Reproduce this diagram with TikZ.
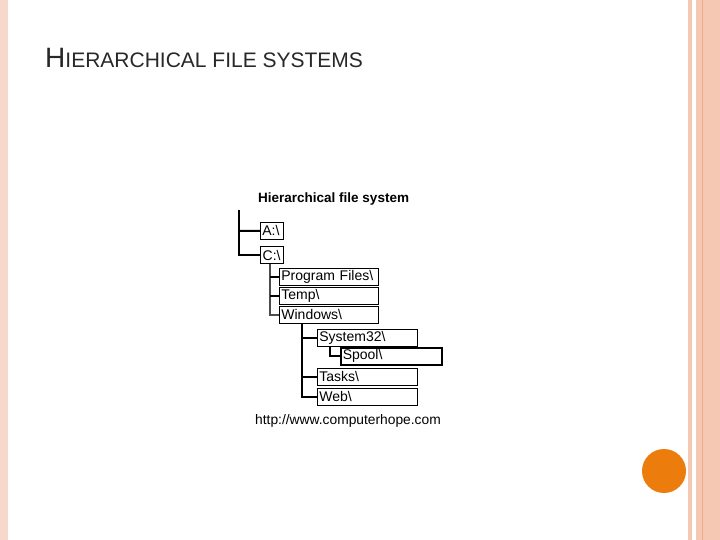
\documentclass[tikz,border=0pt]{standalone}
\usepackage{fontspec}
\setmainfont{Liberation Sans}
\definecolor{salmon}{RGB}{245,200,180}
\definecolor{salmond}{RGB}{235,170,140}
\definecolor{orng}{RGB}{236,124,12}
\definecolor{ttl}{RGB}{40,40,40}
\begin{document}
\begin{tikzpicture}[x=1pt,y=-1pt,
  fbox/.style={draw,line width=0.8pt,anchor=north west,inner ysep=0pt,inner xsep=2pt,minimum height=17pt,font=\fontsize{14}{14}\selectfont,text height=10pt,align=left},
  tl/.style={line width=2pt}]
\useasboundingbox (0,0) rectangle (720,540);
\fill[white] (0,0) rectangle (720,540);
\fill[salmon!70] (0,0) rectangle (8,540);
\fill[salmon] (688,0) rectangle (692,540);
\fill[salmon] (696,0) rectangle (720,540);
\draw[salmond,line width=0.8pt] (702,0) -- (702,540);
\fill[orng] (664,471) circle (22);
\node[anchor=west,text=ttl,inner sep=0] (title) at (45,58) {\fontsize{28}{28}\selectfont H\fontsize{21}{21}\selectfont IERARCHICAL FILE SYSTEMS};
\node[anchor=west,inner sep=0,font=\bfseries\fontsize{13.5}{13.5}\selectfont] (head) at (258,199) {Hierarchical file system};
\node[fbox,text width=19pt] (a) at (260,222) {A:\textbackslash};
\node[fbox,text width=19pt,line width=1.4pt] (c) at (260,246) {C:\textbackslash};
\node[fbox,text width=95pt] (pf) at (279,268) {Program Files\textbackslash};
\node[fbox,text width=95pt] (tmp) at (279,287) {Temp\textbackslash};
\node[fbox,text width=95pt] (win) at (279,306) {Windows\textbackslash};
\node[fbox,text width=96pt] (sys) at (317,329) {System32\textbackslash};
\node[fbox,text width=97pt,line width=1.5pt] (sp) at (340,347) {Spool\textbackslash};
\node[fbox,text width=96pt] (tsk) at (317,368) {Tasks\textbackslash};
\node[fbox,text width=96pt] (web) at (317,388) {Web\textbackslash};
\node[anchor=west,inner sep=0,font=\fontsize{13.8}{13.8}\selectfont] (url) at (255,421) {http://www.computerhope.com};
\coordinate (r0) at (239,210);
\draw[tl] (r0) |- (c.west);
\draw[tl] (239,231) -- (a.west);
\draw[tl,black!70] (c.south -| 270,0) |- (win.west);
\draw[tl] (270,0 |- pf.west) -- (pf.west);
\draw[tl] (270,0 |- tmp.west) -- (tmp.west);
\draw[tl] (302,0 |- win.south) |- (web.west);
\draw[tl] (302,0 |- sys.west) -- (sys.west);
\draw[tl] (302,0 |- tsk.west) -- (tsk.west);
\draw[tl] (330,0 |- sys.south) |- (sp.west);
\end{tikzpicture}
\end{document}
